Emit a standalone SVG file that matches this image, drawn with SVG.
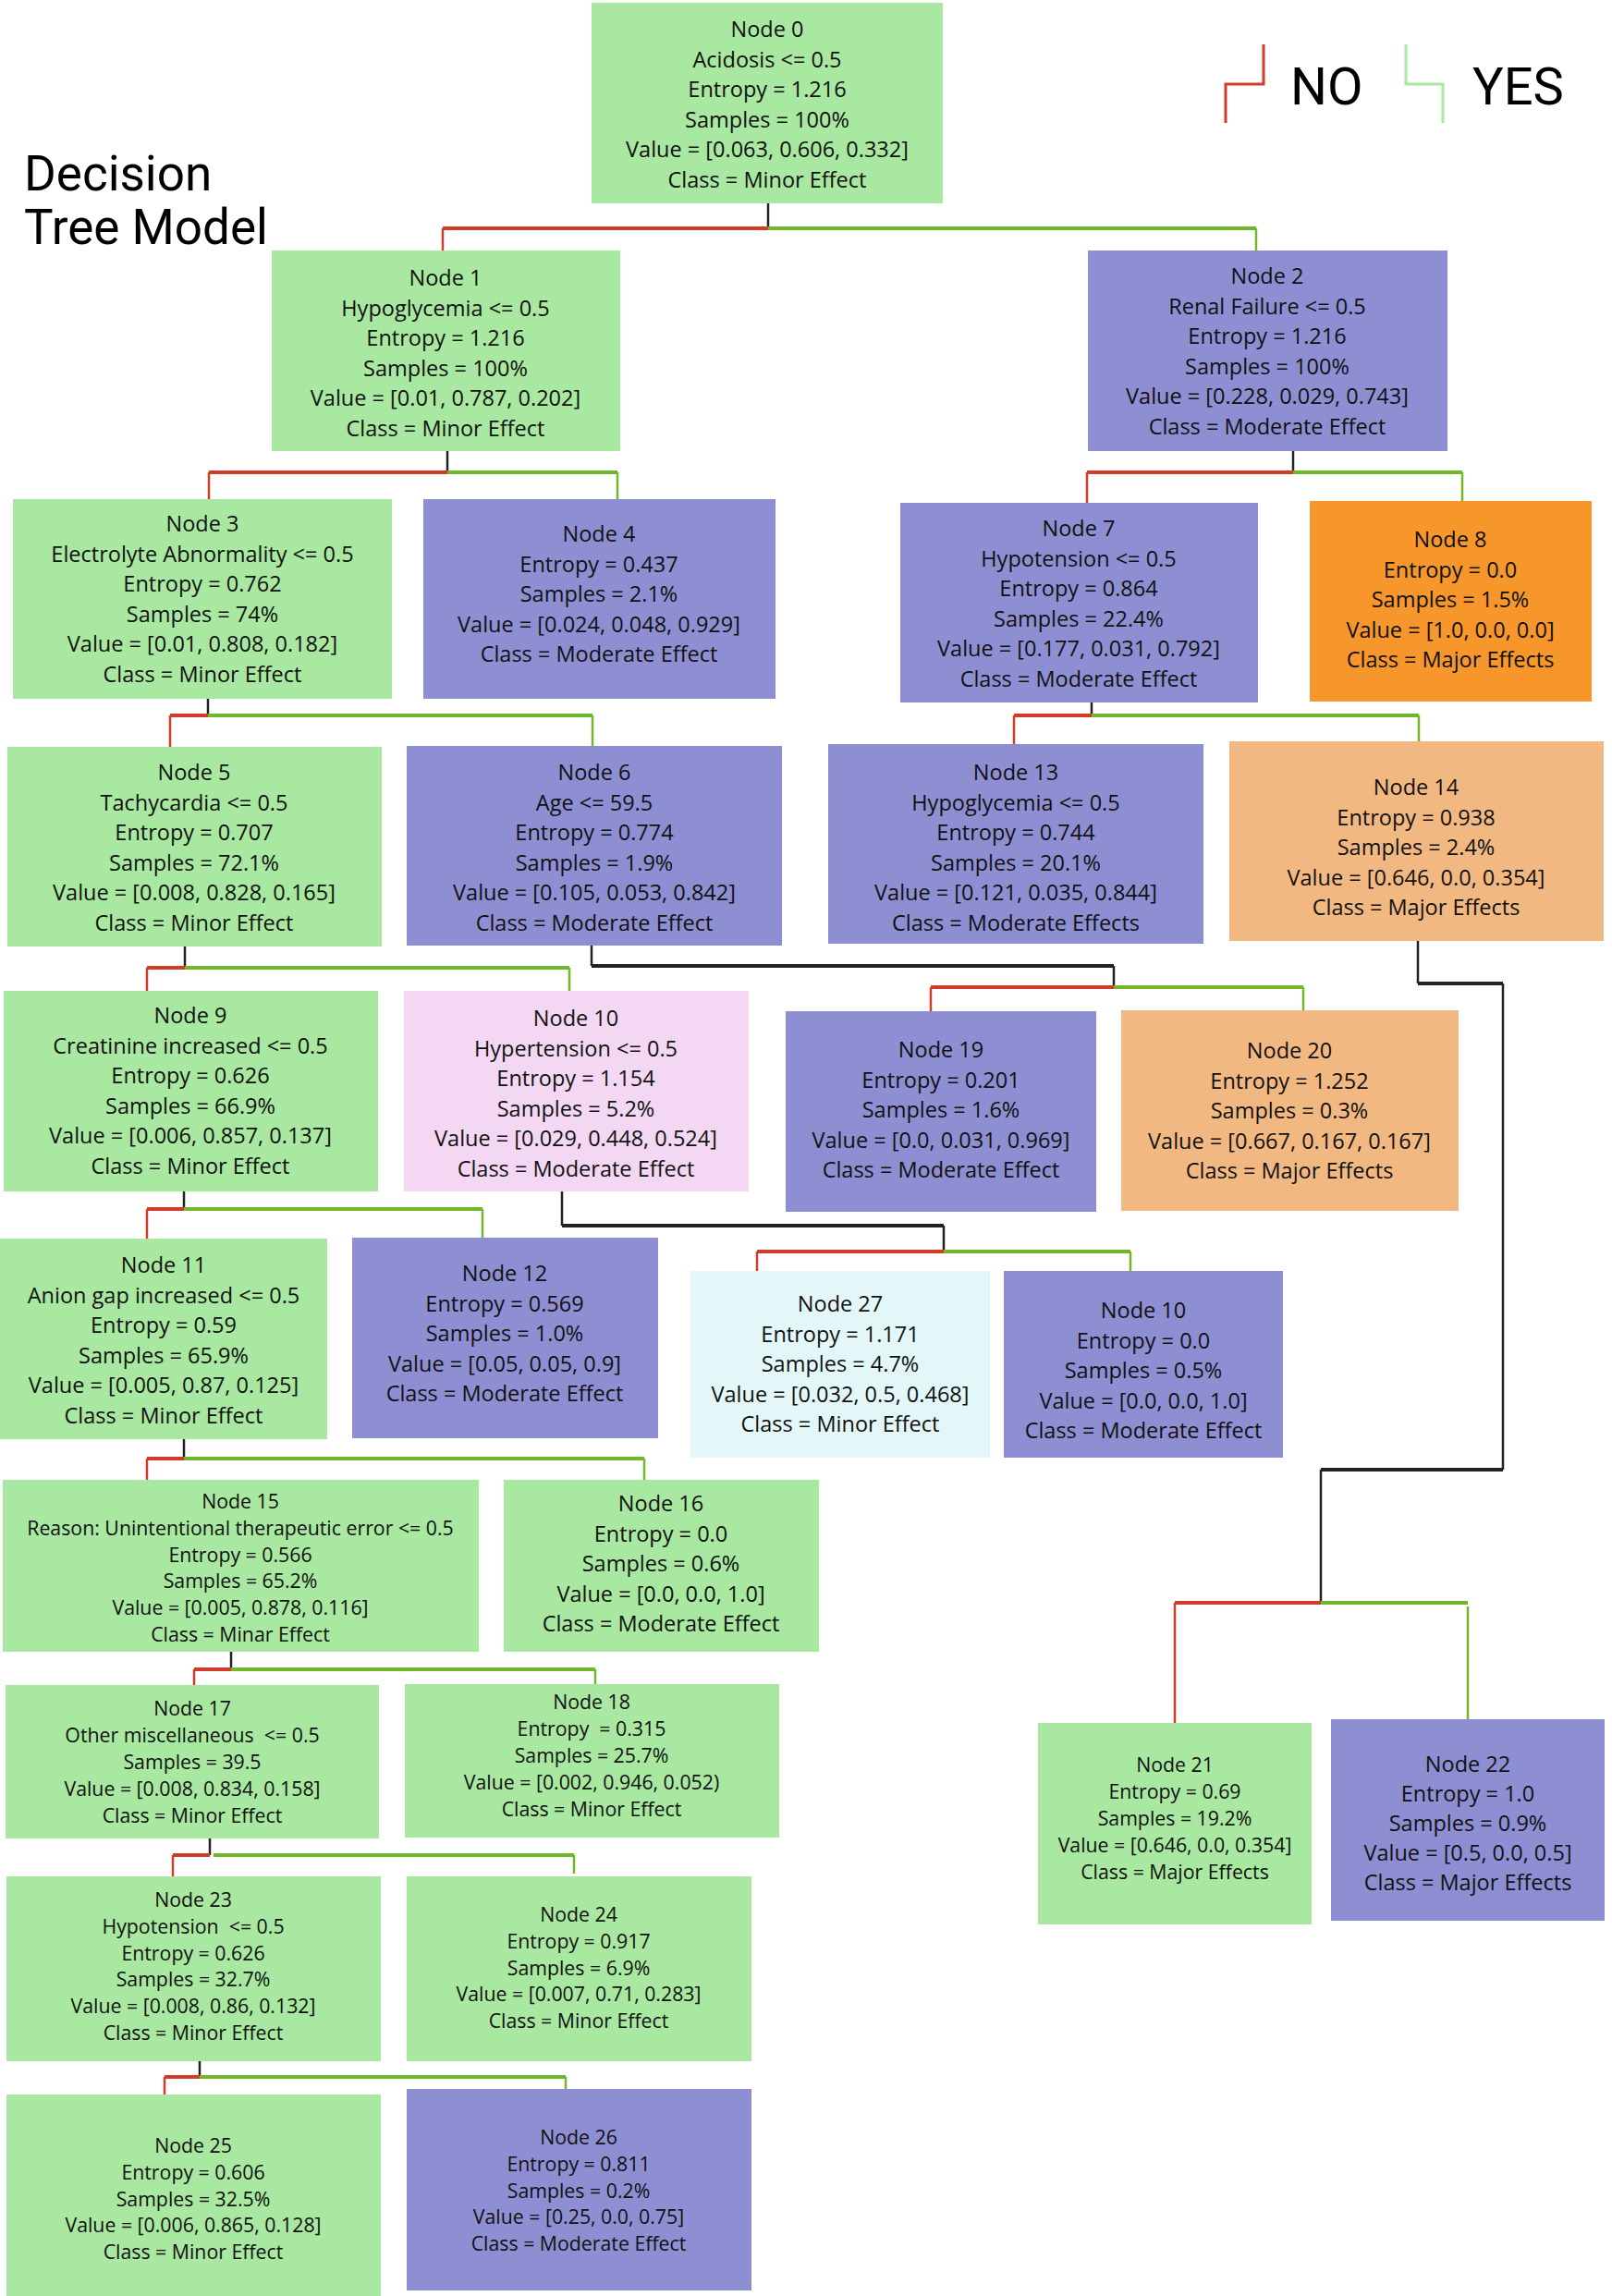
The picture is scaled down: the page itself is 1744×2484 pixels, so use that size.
<svg xmlns="http://www.w3.org/2000/svg" width="1744" height="2484" viewBox="0 0 1744 2484">
<style>
.bg{fill:#ffffff}
.g{fill:#a8e8a0}
.p{fill:#8e8ed3}
.o{fill:#f7962b}
.lo{fill:#f1b882}
.pk{fill:#f3d7f3}
.cy{fill:#e3f7f8}
.t{font-family:"Open Sans","Noto Sans","DejaVu Sans",sans-serif;font-size:23.5px;fill:#111;text-anchor:middle}
.s{font-size:21.3px}
.title{font-family:Roboto,"Liberation Sans",sans-serif;font-size:53px;fill:#000}
.leg{font-family:Roboto,"Liberation Sans",sans-serif;font-size:56px;fill:#000}
.rv{stroke:#d13b2a;stroke-width:2.5;fill:none}
.gv{stroke:#70b82a;stroke-width:2.5;fill:none}
.kv{stroke:#222;stroke-width:2.5;fill:none}
.rh{stroke:#d13b2a;stroke-width:4;fill:none}
.gh{stroke:#70b82a;stroke-width:4;fill:none}
.kh{stroke:#222;stroke-width:4;fill:none}
</style>
<rect class="bg" x="0" y="0" width="1744" height="2484"/>

<g id="title">
<text class="title" x="26" y="206">Decision</text>
<text class="title" x="26" y="264">Tree Model</text>
</g>

<g id="legend">
<path d="M1367,48 V91 H1326 V133" stroke="#d13b2a" stroke-width="3" fill="none"/>
<text class="leg" x="1396" y="113">NO</text>
<path d="M1521,48 V91 H1561 V133" stroke="#a8e8a0" stroke-width="3" fill="none"/>
<text class="leg" x="1593" y="113">YES</text>
</g>

<g id="connectors">
<!-- node 0 -->
<path class="kv" d="M831,220 V247"/>
<path class="rh" d="M479,247 H831"/><path class="gh" d="M831,247 H1359"/>
<path class="rv" d="M479,247 V271"/><path class="gv" d="M1359,247 V271"/>
<!-- node 1 -->
<path class="kv" d="M484,488 V511"/>
<path class="rh" d="M226,511 H484"/><path class="gh" d="M484,511 H668"/>
<path class="rv" d="M226,511 V540"/><path class="gv" d="M668,511 V540"/>
<!-- node 2 -->
<path class="kv" d="M1399,488 V511"/>
<path class="rh" d="M1176,511 H1399"/><path class="gh" d="M1399,511 H1582"/>
<path class="rv" d="M1176,511 V544"/><path class="gv" d="M1582,511 V542"/>
<!-- node 3 -->
<path class="kv" d="M225,756 V774"/>
<path class="rh" d="M184,774 H225"/><path class="gh" d="M225,774 H641"/>
<path class="rv" d="M184,774 V808"/><path class="gv" d="M641,774 V807"/>
<!-- node 7 -->
<path class="kv" d="M1181,760 V774"/>
<path class="rh" d="M1097,774 H1181"/><path class="gh" d="M1181,774 H1535"/>
<path class="rv" d="M1097,774 V805"/><path class="gv" d="M1535,774 V802"/>
<!-- node 5 -->
<path class="kv" d="M200,1024 V1047"/>
<path class="rh" d="M159,1047 H200"/><path class="gh" d="M200,1047 H616"/>
<path class="rv" d="M159,1047 V1072"/><path class="gv" d="M616,1047 V1072"/>
<!-- node 6 -->
<path class="kv" d="M640,1023 V1045"/>
<path class="kh" d="M640,1045 H1205"/>
<path class="kv" d="M1205,1045 V1068"/>
<path class="rh" d="M1007,1068 H1205"/><path class="gh" d="M1205,1068 H1410"/>
<path class="rv" d="M1007,1068 V1094"/><path class="gv" d="M1410,1068 V1093"/>
<!-- node 14 -->
<path class="kv" d="M1534,1018 V1064"/>
<path class="kh" d="M1534,1064 H1626"/>
<path class="kv" d="M1626,1064 V1590"/>
<path class="kh" d="M1429,1590 H1626"/>
<path class="kv" d="M1429,1590 V1734"/>
<path class="rh" d="M1271,1734 H1429"/><path class="gh" d="M1429,1734 H1588"/>
<path class="rv" d="M1271,1734 V1864"/><path class="gv" d="M1588,1738 V1860"/>
<!-- node 9 -->
<path class="kv" d="M199,1289 V1308"/>
<path class="rh" d="M159,1308 H199"/><path class="gh" d="M199,1308 H522"/>
<path class="rv" d="M159,1308 V1340"/><path class="gv" d="M522,1308 V1339"/>
<!-- node 10 -->
<path class="kv" d="M608,1289 V1326"/>
<path class="kh" d="M608,1326 H1021"/>
<path class="kv" d="M1021,1326 V1354"/>
<path class="rh" d="M819,1354 H1021"/><path class="gh" d="M1021,1354 H1223"/>
<path class="rv" d="M819,1354 V1375"/><path class="gv" d="M1223,1354 V1375"/>
<!-- node 11 -->
<path class="kv" d="M199,1557 V1578"/>
<path class="rh" d="M159,1578 H199"/><path class="gh" d="M199,1578 H697"/>
<path class="rv" d="M159,1578 V1601"/><path class="gv" d="M697,1578 V1601"/>
<!-- node 15 -->
<path class="kv" d="M250,1787 V1806"/>
<path class="rh" d="M210,1806 H250"/><path class="gh" d="M250,1806 H644"/>
<path class="rv" d="M210,1806 V1823"/><path class="gv" d="M644,1806 V1822"/>
<!-- node 17 -->
<path class="kv" d="M227,1989 V2007"/>
<path class="rh" d="M187,2007 H227"/><path class="gh" d="M231,2007 H621"/>
<path class="rv" d="M187,2007 V2030"/><path class="gv" d="M621,2007 V2027"/>
<!-- node 23 -->
<path class="kv" d="M216,2230 V2247"/>
<path class="rh" d="M178,2247 H216"/><path class="gh" d="M216,2247 H612"/>
<path class="rv" d="M178,2247 V2266"/><path class="gv" d="M612,2247 V2261"/>
</g>

<g id="node0"><rect class="g" x="640" y="3" width="380" height="217"/>
<text class="t" x="830" y="40"><tspan x="830">Node 0</tspan><tspan x="830" dy="32.5">Acidosis &lt;= 0.5</tspan><tspan x="830" dy="32.5">Entropy = 1.216</tspan><tspan x="830" dy="32.5">Samples = 100%</tspan><tspan x="830" dy="32.5">Value = [0.063, 0.606, 0.332]</tspan><tspan x="830" dy="32.5">Class = Minor Effect</tspan></text></g>

<g id="node1"><rect class="g" x="294" y="271" width="377" height="217"/>
<text class="t" x="482" y="309"><tspan x="482">Node 1</tspan><tspan x="482" dy="32.5">Hypoglycemia &lt;= 0.5</tspan><tspan x="482" dy="32.5">Entropy = 1.216</tspan><tspan x="482" dy="32.5">Samples = 100%</tspan><tspan x="482" dy="32.5">Value = [0.01, 0.787, 0.202]</tspan><tspan x="482" dy="32.5">Class = Minor Effect</tspan></text></g>

<g id="node2"><rect class="p" x="1177" y="271" width="389" height="217"/>
<text class="t" x="1371" y="307"><tspan x="1371">Node 2</tspan><tspan x="1371" dy="32.5">Renal Failure &lt;= 0.5</tspan><tspan x="1371" dy="32.5">Entropy = 1.216</tspan><tspan x="1371" dy="32.5">Samples = 100%</tspan><tspan x="1371" dy="32.5">Value = [0.228, 0.029, 0.743]</tspan><tspan x="1371" dy="32.5">Class = Moderate Effect</tspan></text></g>

<g id="node3"><rect class="g" x="14" y="540" width="410" height="216"/>
<text class="t" x="219" y="575"><tspan x="219">Node 3</tspan><tspan x="219" dy="32.5">Electrolyte Abnormality &lt;= 0.5</tspan><tspan x="219" dy="32.5">Entropy = 0.762</tspan><tspan x="219" dy="32.5">Samples = 74%</tspan><tspan x="219" dy="32.5">Value = [0.01, 0.808, 0.182]</tspan><tspan x="219" dy="32.5">Class = Minor Effect</tspan></text></g>

<g id="node4"><rect class="p" x="458" y="540" width="381" height="216"/>
<text class="t" x="648" y="586"><tspan x="648">Node 4</tspan><tspan x="648" dy="32.5">Entropy = 0.437</tspan><tspan x="648" dy="32.5">Samples = 2.1%</tspan><tspan x="648" dy="32.5">Value = [0.024, 0.048, 0.929]</tspan><tspan x="648" dy="32.5">Class = Moderate Effect</tspan></text></g>

<g id="node7"><rect class="p" x="974" y="544" width="387" height="216"/>
<text class="t" x="1167" y="580"><tspan x="1167">Node 7</tspan><tspan x="1167" dy="32.5">Hypotension &lt;= 0.5</tspan><tspan x="1167" dy="32.5">Entropy = 0.864</tspan><tspan x="1167" dy="32.5">Samples = 22.4%</tspan><tspan x="1167" dy="32.5">Value = [0.177, 0.031, 0.792]</tspan><tspan x="1167" dy="32.5">Class = Moderate Effect</tspan></text></g>

<g id="node8"><rect class="o" x="1417" y="542" width="305" height="217"/>
<text class="t" x="1569" y="592"><tspan x="1569">Node 8</tspan><tspan x="1569" dy="32.5">Entropy = 0.0</tspan><tspan x="1569" dy="32.5">Samples = 1.5%</tspan><tspan x="1569" dy="32.5">Value = [1.0, 0.0, 0.0]</tspan><tspan x="1569" dy="32.5">Class = Major Effects</tspan></text></g>

<g id="node5"><rect class="g" x="8" y="808" width="405" height="216"/>
<text class="t" x="210" y="844"><tspan x="210">Node 5</tspan><tspan x="210" dy="32.5">Tachycardia &lt;= 0.5</tspan><tspan x="210" dy="32.5">Entropy = 0.707</tspan><tspan x="210" dy="32.5">Samples = 72.1%</tspan><tspan x="210" dy="32.5">Value = [0.008, 0.828, 0.165]</tspan><tspan x="210" dy="32.5">Class = Minor Effect</tspan></text></g>

<g id="node6"><rect class="p" x="440" y="807" width="406" height="216"/>
<text class="t" x="643" y="844"><tspan x="643">Node 6</tspan><tspan x="643" dy="32.5">Age &lt;= 59.5</tspan><tspan x="643" dy="32.5">Entropy = 0.774</tspan><tspan x="643" dy="32.5">Samples = 1.9%</tspan><tspan x="643" dy="32.5">Value = [0.105, 0.053, 0.842]</tspan><tspan x="643" dy="32.5">Class = Moderate Effect</tspan></text></g>

<g id="node13"><rect class="p" x="896" y="805" width="406" height="216"/>
<text class="t" x="1099" y="844"><tspan x="1099">Node 13</tspan><tspan x="1099" dy="32.5">Hypoglycemia &lt;= 0.5</tspan><tspan x="1099" dy="32.5">Entropy = 0.744</tspan><tspan x="1099" dy="32.5">Samples = 20.1%</tspan><tspan x="1099" dy="32.5">Value = [0.121, 0.035, 0.844]</tspan><tspan x="1099" dy="32.5">Class = Moderate Effects</tspan></text></g>

<g id="node14"><rect class="lo" x="1330" y="802" width="405" height="216"/>
<text class="t" x="1532" y="860"><tspan x="1532">Node 14</tspan><tspan x="1532" dy="32.5">Entropy = 0.938</tspan><tspan x="1532" dy="32.5">Samples = 2.4%</tspan><tspan x="1532" dy="32.5">Value = [0.646, 0.0, 0.354]</tspan><tspan x="1532" dy="32.5">Class = Major Effects</tspan></text></g>

<g id="node9"><rect class="g" x="4" y="1072" width="405" height="217"/>
<text class="t" x="206" y="1107"><tspan x="206">Node 9</tspan><tspan x="206" dy="32.5">Creatinine increased &lt;= 0.5</tspan><tspan x="206" dy="32.5">Entropy = 0.626</tspan><tspan x="206" dy="32.5">Samples = 66.9%</tspan><tspan x="206" dy="32.5">Value = [0.006, 0.857, 0.137]</tspan><tspan x="206" dy="32.5">Class = Minor Effect</tspan></text></g>

<g id="node10"><rect class="pk" x="437" y="1072" width="373" height="217"/>
<text class="t" x="623" y="1110"><tspan x="623">Node 10</tspan><tspan x="623" dy="32.5">Hypertension &lt;= 0.5</tspan><tspan x="623" dy="32.5">Entropy = 1.154</tspan><tspan x="623" dy="32.5">Samples = 5.2%</tspan><tspan x="623" dy="32.5">Value = [0.029, 0.448, 0.524]</tspan><tspan x="623" dy="32.5">Class = Moderate Effect</tspan></text></g>

<g id="node19"><rect class="p" x="850" y="1094" width="336" height="217"/>
<text class="t" x="1018" y="1144"><tspan x="1018">Node 19</tspan><tspan x="1018" dy="32.5">Entropy = 0.201</tspan><tspan x="1018" dy="32.5">Samples = 1.6%</tspan><tspan x="1018" dy="32.5">Value = [0.0, 0.031, 0.969]</tspan><tspan x="1018" dy="32.5">Class = Moderate Effect</tspan></text></g>

<g id="node20"><rect class="lo" x="1213" y="1093" width="365" height="217"/>
<text class="t" x="1395" y="1145"><tspan x="1395">Node 20</tspan><tspan x="1395" dy="32.5">Entropy = 1.252</tspan><tspan x="1395" dy="32.5">Samples = 0.3%</tspan><tspan x="1395" dy="32.5">Value = [0.667, 0.167, 0.167]</tspan><tspan x="1395" dy="32.5">Class = Major Effects</tspan></text></g>

<g id="node11"><rect class="g" x="0" y="1340" width="354" height="217"/>
<text class="t" x="177" y="1377"><tspan x="177">Node 11</tspan><tspan x="177" dy="32.5">Anion gap increased &lt;= 0.5</tspan><tspan x="177" dy="32.5">Entropy = 0.59</tspan><tspan x="177" dy="32.5">Samples = 65.9%</tspan><tspan x="177" dy="32.5">Value = [0.005, 0.87, 0.125]</tspan><tspan x="177" dy="32.5">Class = Minor Effect</tspan></text></g>

<g id="node12"><rect class="p" x="381" y="1339" width="331" height="217"/>
<text class="t" x="546" y="1386"><tspan x="546">Node 12</tspan><tspan x="546" dy="32.5">Entropy = 0.569</tspan><tspan x="546" dy="32.5">Samples = 1.0%</tspan><tspan x="546" dy="32.5">Value = [0.05, 0.05, 0.9]</tspan><tspan x="546" dy="32.5">Class = Moderate Effect</tspan></text></g>

<g id="node27"><rect class="cy" x="747" y="1375" width="324" height="202"/>
<text class="t" x="909" y="1419"><tspan x="909">Node 27</tspan><tspan x="909" dy="32.5">Entropy = 1.171</tspan><tspan x="909" dy="32.5">Samples = 4.7%</tspan><tspan x="909" dy="32.5">Value = [0.032, 0.5, 0.468]</tspan><tspan x="909" dy="32.5">Class = Minor Effect</tspan></text></g>

<g id="node10b"><rect class="p" x="1086" y="1375" width="302" height="202"/>
<text class="t" x="1237" y="1426"><tspan x="1237">Node 10</tspan><tspan x="1237" dy="32.5">Entropy = 0.0</tspan><tspan x="1237" dy="32.5">Samples = 0.5%</tspan><tspan x="1237" dy="32.5">Value = [0.0, 0.0, 1.0]</tspan><tspan x="1237" dy="32.5">Class = Moderate Effect</tspan></text></g>

<g id="node15"><rect class="g" x="3" y="1601" width="515" height="186"/>
<text class="t s" x="260" y="1632"><tspan x="260">Node 15</tspan><tspan x="260" dy="28.8">Reason: Unintentional therapeutic error &lt;= 0.5</tspan><tspan x="260" dy="28.8">Entropy = 0.566</tspan><tspan x="260" dy="28.8">Samples = 65.2%</tspan><tspan x="260" dy="28.8">Value = [0.005, 0.878, 0.116]</tspan><tspan x="260" dy="28.8">Class = Minar Effect</tspan></text></g>

<g id="node16"><rect class="g" x="545" y="1601" width="341" height="186"/>
<text class="t" x="715" y="1635"><tspan x="715">Node 16</tspan><tspan x="715" dy="32.5">Entropy = 0.0</tspan><tspan x="715" dy="32.5">Samples = 0.6%</tspan><tspan x="715" dy="32.5">Value = [0.0, 0.0, 1.0]</tspan><tspan x="715" dy="32.5">Class = Moderate Effect</tspan></text></g>

<g id="node17"><rect class="g" x="6" y="1823" width="404" height="166"/>
<text class="t s" x="208" y="1856" xml:space="preserve"><tspan x="208">Node 17</tspan><tspan x="208" dy="29">Other miscellaneous  &lt;= 0.5</tspan><tspan x="208" dy="29">Samples = 39.5</tspan><tspan x="208" dy="29">Value = [0.008, 0.834, 0.158]</tspan><tspan x="208" dy="29">Class = Minor Effect</tspan></text></g>

<g id="node18"><rect class="g" x="438" y="1822" width="405" height="166"/>
<text class="t s" x="640" y="1849" xml:space="preserve"><tspan x="640">Node 18</tspan><tspan x="640" dy="29">Entropy  = 0.315</tspan><tspan x="640" dy="29">Samples = 25.7%</tspan><tspan x="640" dy="29">Value = [0.002, 0.946, 0.052)</tspan><tspan x="640" dy="29">Class = Minor Effect</tspan></text></g>

<g id="node21"><rect class="g" x="1123" y="1864" width="296" height="218"/>
<text class="t s" x="1271" y="1917"><tspan x="1271">Node 21</tspan><tspan x="1271" dy="29">Entropy = 0.69</tspan><tspan x="1271" dy="29">Samples = 19.2%</tspan><tspan x="1271" dy="29">Value = [0.646, 0.0, 0.354]</tspan><tspan x="1271" dy="29">Class = Major Effects</tspan></text></g>

<g id="node22"><rect class="p" x="1440" y="1860" width="296" height="218"/>
<text class="t" x="1588" y="1917"><tspan x="1588">Node 22</tspan><tspan x="1588" dy="32">Entropy = 1.0</tspan><tspan x="1588" dy="32">Samples = 0.9%</tspan><tspan x="1588" dy="32">Value = [0.5, 0.0, 0.5]</tspan><tspan x="1588" dy="32">Class = Major Effects</tspan></text></g>

<g id="node23"><rect class="g" x="7" y="2030" width="405" height="200"/>
<text class="t s" x="209" y="2063" xml:space="preserve"><tspan x="209">Node 23</tspan><tspan x="209" dy="28.8">Hypotension  &lt;= 0.5</tspan><tspan x="209" dy="28.8">Entropy = 0.626</tspan><tspan x="209" dy="28.8">Samples = 32.7%</tspan><tspan x="209" dy="28.8">Value = [0.008, 0.86, 0.132]</tspan><tspan x="209" dy="28.8">Class = Minor Effect</tspan></text></g>

<g id="node24"><rect class="g" x="440" y="2030" width="373" height="200"/>
<text class="t s" x="626" y="2079"><tspan x="626">Node 24</tspan><tspan x="626" dy="28.8">Entropy = 0.917</tspan><tspan x="626" dy="28.8">Samples = 6.9%</tspan><tspan x="626" dy="28.8">Value = [0.007, 0.71, 0.283]</tspan><tspan x="626" dy="28.8">Class = Minor Effect</tspan></text></g>

<g id="node25"><rect class="g" x="7" y="2266" width="405" height="218"/>
<text class="t s" x="209" y="2329"><tspan x="209">Node 25</tspan><tspan x="209" dy="28.8">Entropy = 0.606</tspan><tspan x="209" dy="28.8">Samples = 32.5%</tspan><tspan x="209" dy="28.8">Value = [0.006, 0.865, 0.128]</tspan><tspan x="209" dy="28.8">Class = Minor Effect</tspan></text></g>

<g id="node26"><rect class="p" x="440" y="2260" width="373" height="218"/>
<text class="t s" x="626" y="2320"><tspan x="626">Node 26</tspan><tspan x="626" dy="28.8">Entropy = 0.811</tspan><tspan x="626" dy="28.8">Samples = 0.2%</tspan><tspan x="626" dy="28.8">Value = [0.25, 0.0, 0.75]</tspan><tspan x="626" dy="28.8">Class = Moderate Effect</tspan></text></g>
</svg>
